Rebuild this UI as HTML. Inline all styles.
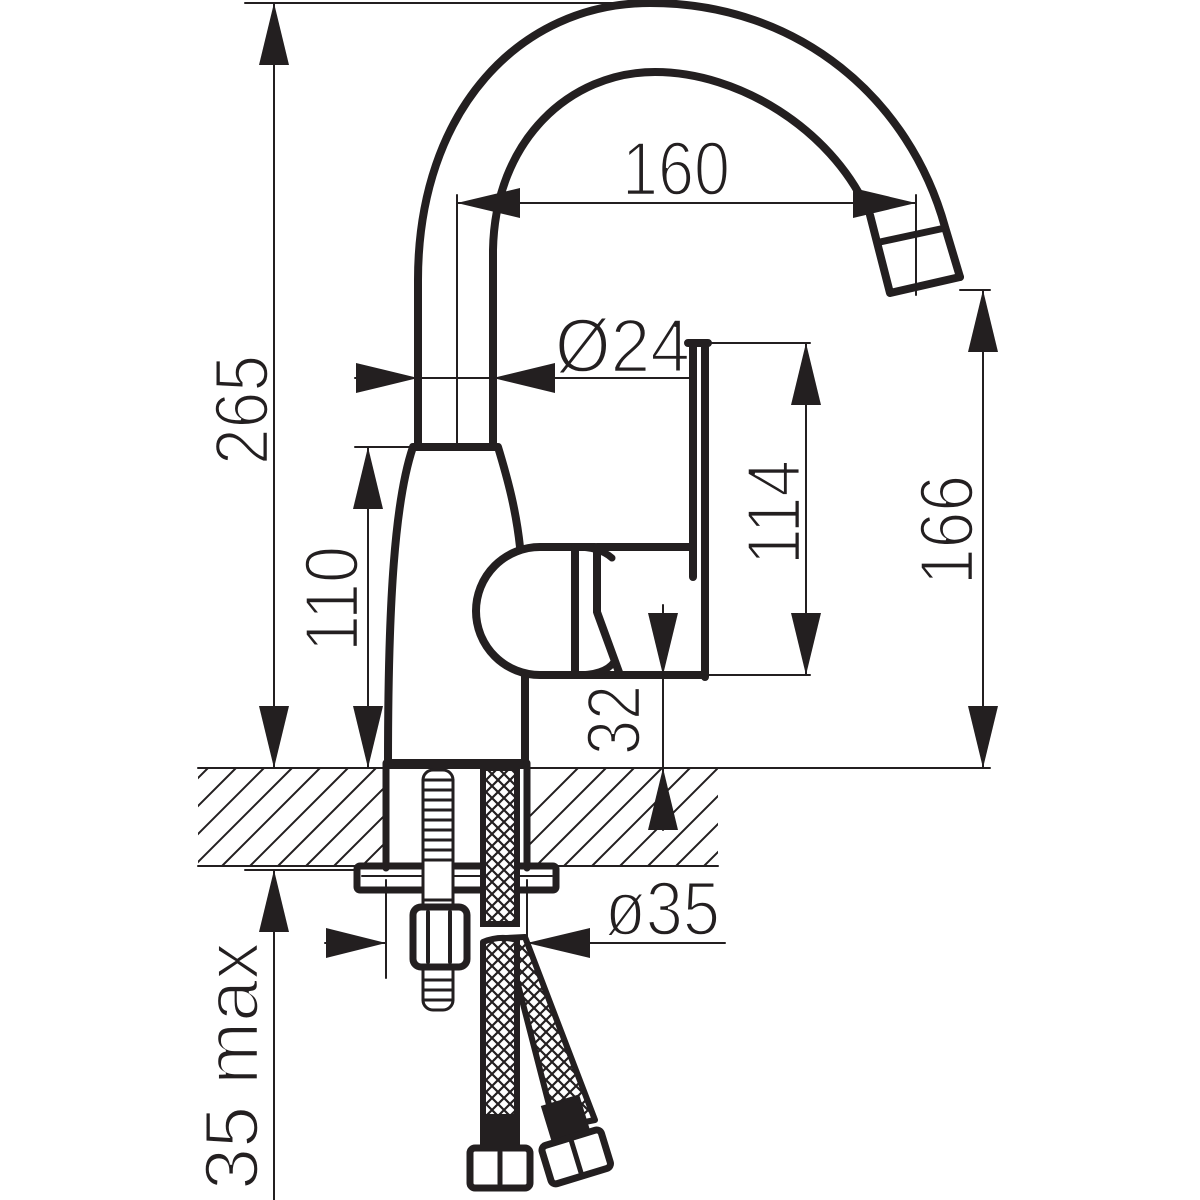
<!DOCTYPE html>
<html><head><style>html,body{margin:0;padding:0;background:#fff}svg{display:block}
text{font-family:"Liberation Sans Narrow","Liberation Sans",sans-serif;font-size:76px;fill:#231f20;stroke:#fff;stroke-width:2.4px}</style></head>
<body>
<svg width="1200" height="1200" viewBox="0 0 1200 1200" xmlns="http://www.w3.org/2000/svg">
<defs>
<clipPath id="hc"><path d="M198,768 H386 V866 H198 Z M527,768 H718 V866 H527 Z"/></clipPath>
<pattern id="br" width="12" height="12" patternUnits="userSpaceOnUse">
<rect width="12" height="12" fill="#fff"/>
<path d="M0,6 L6,0 M6,12 L12,6 M0,6 L6,12 M6,0 L12,6" stroke="#231f20" stroke-width="2.2"/>
</pattern>
</defs>
<g stroke="#231f20" fill="none" stroke-linecap="round">
<g clip-path="url(#hc)" stroke-width="2">
<path d="M110,866 L208,768 M138,866 L236,768 M166,866 L264,768 M194,866 L292,768 M222,866 L320,768 M250,866 L348,768 M278,866 L376,768 M306,866 L404,768 M334,866 L432,768 M362,866 L460,768 M480,866 L578,768 M508,866 L606,768 M536,866 L634,768 M564,866 L662,768 M592,866 L690,768 M620,866 L718,768 M648,866 L746,768 M676,866 L774,768 M704,866 L802,768"/>
</g>
<path d="M198,768 H990 M198,866 H718" stroke-width="2"/>
<path d="M418,447 L418,280 C418,110 520,3 650,3 C800,3 910,100 945,227 L960,277" stroke-width="8" stroke-linejoin="round"/>
<path d="M493,447 L493,250 C495,140 570,72 655,72 C740,72 830,130 866,207" stroke-width="8"/>
<path d="M870,215 L890,293 L960,277" stroke-width="8" stroke-linejoin="round"/>
<path d="M880,242 L945,228" stroke-width="7"/>
<path d="M388,763 C388,600 395,500 413,447 L498,447 C508,480 516,510 520,547" stroke-width="8" stroke-linejoin="round"/>
<path d="M388,763 H525 V675" stroke-width="8"/>
<path d="M595,547 L540,547 A64,64 0 0 0 540,675 L620,675 M575,547 V675" stroke-width="8"/>
<path d="M575,547 Q600,547 612,558 M575,675 Q605,675 614,662" stroke-width="7"/>
<path d="M597,612 L597,547 L693,547 M693,343 V577 M705,343 V677 M688,343 H708 M597,612 L620,675 H705" stroke-width="8" stroke-linejoin="round"/>
<path d="M386,763 V868 M527,763 V868" stroke-width="7"/>
<rect x="357" y="866" width="199" height="24" rx="3" stroke-width="7"/>
<path d="M362,876 H552" stroke-width="2"/>
<rect x="423" y="770" width="30" height="240" rx="10" fill="#fff" stroke-width="3"/>
<path d="M423,780 H453 M423,790 H453 M423,800 H453 M423,810 H453 M423,820 H453 M423,830 H453 M423,840 H453 M423,850 H453 M423,860 H453 M423,900 H453 M423,980 H453 M423,990 H453 M423,1000 H453" stroke-width="3"/>
<rect x="413" y="907" width="54" height="60" rx="8" fill="#fff" stroke-width="7"/>
<path d="M428,912 V962 M450,912 V962" stroke-width="4"/>
<rect x="483" y="768" width="34" height="156" fill="url(#br)" stroke-width="6"/>
<path d="M506,938 L525,937 L595,1120 L555,1128 Z" fill="url(#br)" stroke-width="6" stroke-linejoin="round"/>
<path d="M483,942 Q500,935 517,940 L517,1120 L483,1120 Z" fill="url(#br)" stroke-width="6" stroke-linejoin="round"/>
<path d="M481,1115 H519 V1150 H481 Z" fill="#231f20" stroke-width="2"/>
<rect x="470" y="1148" width="60" height="40" rx="5" fill="#fff" stroke-width="7"/>
<path d="M500,1152 V1184" stroke-width="5"/>
<g transform="rotate(-17 570 1140)">
<rect x="553" y="1100" width="38" height="38" fill="#231f20" stroke-width="2"/>
<rect x="540" y="1138" width="62" height="40" rx="5" fill="#fff" stroke-width="7"/>
<path d="M571,1142 V1174" stroke-width="5"/>
</g>
<g stroke-width="2">
<path d="M245,3 H650 M274,3 V768"/>
<path d="M355,447 H413 M368,447 V768"/>
<path d="M457,195 V445 M916,195 V295 M457,203 H916"/>
<path d="M355,378 H418 M418,378 H690"/>
<path d="M708,343 H810 M705,675 H810 M806,343 V675"/>
<path d="M960,290 H990 M983,290 V768"/>
<path d="M663,605 V830"/>
<path d="M245,870 H357 M274,870 V1200"/>
<path d="M386,880 V978 M527,880 V948 M325,943 H386 M527,943 H725"/>
</g>
</g>
<g fill="#231f20">
<polygon points="274,3 259,65 289,65"/>
<polygon points="274,768 259,706 289,706"/>
<polygon points="368,447 353,509 383,509"/>
<polygon points="368,768 353,706 383,706"/>
<polygon points="457,203 520,188 520,218"/>
<polygon points="916,203 853,188 853,218"/>
<polygon points="418,378 356,363 356,393"/>
<polygon points="493,378 555,363 555,393"/>
<polygon points="806,343 791,405 821,405"/>
<polygon points="806,675 791,613 821,613"/>
<polygon points="983,290 968,352 998,352"/>
<polygon points="983,768 968,706 998,706"/>
<polygon points="663,675 648,613 678,613"/>
<polygon points="663,768 648,830 678,830"/>
<polygon points="274,870 259,932 289,932"/>
<polygon points="386,943 326,928 326,958"/>
<polygon points="527,943 590,928 590,958"/>
</g>
<text x="622" y="195" textLength="108" lengthAdjust="spacingAndGlyphs">160</text>
<text x="555" y="372" textLength="135" lengthAdjust="spacingAndGlyphs">Ø24</text>
<text x="605" y="935" textLength="115" lengthAdjust="spacingAndGlyphs">ø35</text>
<text transform="translate(268,465) rotate(-90)" textLength="110" lengthAdjust="spacingAndGlyphs">265</text>
<text transform="translate(358,652) rotate(-90)" textLength="106" lengthAdjust="spacingAndGlyphs">110</text>
<text transform="translate(800,565) rotate(-90)" textLength="105" lengthAdjust="spacingAndGlyphs">114</text>
<text transform="translate(973,585) rotate(-90)" textLength="110" lengthAdjust="spacingAndGlyphs">166</text>
<text transform="translate(640,755) rotate(-90)" textLength="70" lengthAdjust="spacingAndGlyphs">32</text>
<text transform="translate(258,1190) rotate(-90)" textLength="248" lengthAdjust="spacingAndGlyphs">35 max</text>
</svg>
</body></html>
